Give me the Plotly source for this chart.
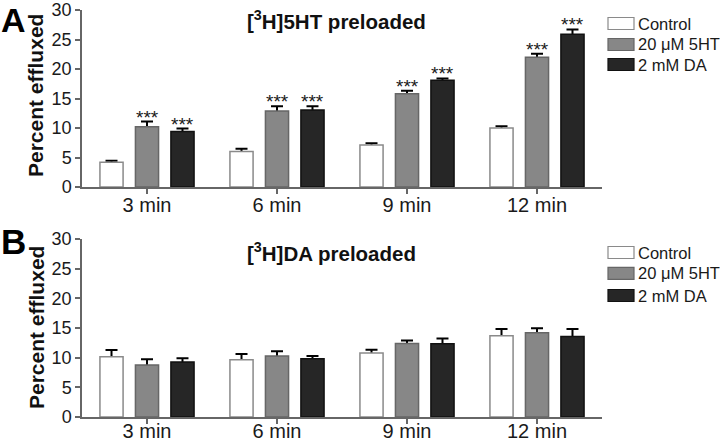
import plotly.graph_objects as go

# ---------------- data ----------------
categories = ["3 min", "6 min", "9 min", "12 min"]
series_names = ["Control", "20 \u03bcM 5HT", "2 mM DA"]

# Panel A: [3H]5HT preloaded
a_control = [4.2, 6.0, 7.1, 10.0]
a_control_err = [0.27, 0.5, 0.3, 0.3]
a_5ht = [10.2, 12.9, 15.8, 22.0]
a_5ht_err = [0.9, 0.8, 0.5, 0.6]
a_da = [9.4, 13.05, 18.1, 25.9]
a_da_err = [0.5, 0.65, 0.3, 0.8]
a_5ht_sig = ["***", "***", "***", "***"]
a_da_sig = ["***", "***", "***", "***"]

# Panel B: [3H]DA preloaded
b_control = [10.15, 9.65, 10.8, 13.7]
b_control_err = [1.15, 0.95, 0.55, 1.15]
b_5ht = [8.75, 10.27, 12.4, 14.2]
b_5ht_err = [1.0, 0.83, 0.5, 0.75]
b_da = [9.25, 9.8, 12.35, 13.55]
b_da_err = [0.65, 0.5, 0.9, 1.3]

y_ticks = [0, 5, 10, 15, 20, 25, 30]

# ---------------- style ----------------
FONT = "Liberation Sans, Arial, sans-serif"
fills = ["#ffffff", "#878787", "#262626"]
edges = ["#8a8a8a", "#666666", "#111111"]
BAR_W = 0.178          # bar width in category units
SLOT = 0.273           # distance between bar centres in a group
centres = [-SLOT, 0.0, SLOT]

# pixel layout helpers
L, R, T, B = 82, 602, 10, 417
W, H = 720, 441


def px_x(p):
    return (p - L) / (R - L)


def px_y(p):
    return (B - p) / (B - T)


fig = go.Figure()

panels = [
    ("x", "y", [a_control, a_5ht, a_da], [a_control_err, a_5ht_err, a_da_err]),
    ("x2", "y2", [b_control, b_5ht, b_da], [b_control_err, b_5ht_err, b_da_err]),
]

for xa, ya, vals, errs in panels:
    # error bars first (underneath), so the bars hide their lower halves
    for i, name in enumerate(series_names):
        fig.add_trace(go.Bar(
            x=categories, y=vals[i], xaxis=xa, yaxis=ya,
            offset=centres[i] - BAR_W / 2, width=BAR_W,
            marker=dict(color="rgba(0,0,0,0)", line=dict(width=0)),
            error_y=dict(type="data", array=errs[i], symmetric=True,
                         color="#000000", thickness=2, width=6),
            showlegend=False, hoverinfo="skip",
        ))
    for i, name in enumerate(series_names):
        fig.add_trace(go.Bar(
            x=categories, y=vals[i], name=name, xaxis=xa, yaxis=ya,
            offset=centres[i] - BAR_W / 2, width=BAR_W,
            marker=dict(color=fills[i], line=dict(color=edges[i], width=1.5)),
            showlegend=False,
        ))

axis_common = dict(
    showline=True, linecolor="#666666", linewidth=1.5, ticks="outside",
    ticklen=5, tickcolor="#666666", tickwidth=1.5, showgrid=False, zeroline=False,
    automargin=False,
)
xfont = dict(family=FONT, size=20, color="#1a1a1a")
yfont = dict(family=FONT, size=18, color="#1a1a1a")

fig.update_layout(
    width=W, height=H,
    margin=dict(l=L, r=W - R, t=T, b=H - B, autoexpand=False),
    plot_bgcolor="white", paper_bgcolor="white",
    barmode="overlay",
    font=dict(family=FONT, color="#1a1a1a"),
    xaxis=dict(domain=[0, 1], anchor="y", range=[-0.5, 3.5], type="category",
               tickfont=xfont, ticklabelstandoff=-6, **axis_common),
    yaxis=dict(domain=[px_y(187), 1.0], anchor="x", range=[0, 30], tickvals=y_ticks,
               tickfont=yfont, **axis_common),
    xaxis2=dict(domain=[0, 1], anchor="y2", range=[-0.5, 3.5], type="category",
                tickfont=xfont, ticklabelstandoff=-10, **axis_common),
    yaxis2=dict(domain=[0, px_y(239)], anchor="x2", range=[0, 30], tickvals=y_ticks,
                tickfont=yfont, **axis_common),
)

ann = []
# significance asterisks (panel A)
offs = 35.5
for j, cat in enumerate(categories):
    ann.append(dict(x=cat, y=a_5ht[j] + a_5ht_err[j], xref="x", yref="y", text=a_5ht_sig[j],
                    showarrow=False, yanchor="bottom", yshift=-8, xshift=0,
                    font=dict(family=FONT, size=19, color="#1a1a1a")))
    ann.append(dict(x=cat, y=a_da[j] + a_da_err[j], xref="x", yref="y", text=a_da_sig[j],
                    showarrow=False, yanchor="bottom", yshift=-8, xshift=offs,
                    font=dict(family=FONT, size=19, color="#1a1a1a")))

# titles
ann.append(dict(x=px_x(245), y=px_y(20), xref="paper", yref="paper", xanchor="left", yanchor="middle",
                text="<b>[<sup>3</sup>H]5HT preloaded</b>", showarrow=False,
                font=dict(family=FONT, size=20.5, color="#111111")))
ann.append(dict(x=px_x(245), y=px_y(252), xref="paper", yref="paper", xanchor="left", yanchor="middle",
                text="<b>[<sup>3</sup>H]DA preloaded</b>", showarrow=False,
                font=dict(family=FONT, size=20.5, color="#111111")))

# y-axis titles
for cy in (96, 328):
    ann.append(dict(x=px_x(36), y=px_y(cy), xref="paper", yref="paper", xanchor="center", yanchor="middle",
                    text="<b>Percent effluxed</b>", textangle=-90, showarrow=False,
                    font=dict(family=FONT, size=21, color="#111111")))

# panel letters
ann.append(dict(x=px_x(0), y=px_y(0), xref="paper", yref="paper", xanchor="left", yanchor="top",
                text="<b>A</b>", showarrow=False, borderpad=0,
                font=dict(family=FONT, size=34, color="#000000")))
ann.append(dict(x=px_x(0), y=px_y(241), xref="paper", yref="paper", xanchor="left", yanchor="middle",
                text="<b>B</b>", showarrow=False, borderpad=0,
                font=dict(family=FONT, size=35, color="#000000")))

# legends (two, one per panel)
shapes = []
for rows in ((23.5, 44.5, 64.5), (252.5, 273.3, 295.5)):
    for i, name in enumerate(series_names):
        cy = rows[i]
        shapes.append(dict(type="rect", xref="paper", yref="paper",
                           x0=px_x(608), x1=px_x(634), y0=px_y(cy + 6), y1=px_y(cy - 6),
                           fillcolor=fills[i], line=dict(color=edges[i], width=1.2)))
        ann.append(dict(x=px_x(636), y=px_y(cy), xref="paper", yref="paper", xanchor="left",
                        yanchor="middle", text=name, showarrow=False,
                        font=dict(family=FONT, size=16.5, color="#1a1a1a")))

fig.update_layout(annotations=ann, shapes=shapes)

fig.write_html("out.html", config={"displayModeBar": False},
               post_script="document.body.style.margin='0px';")
